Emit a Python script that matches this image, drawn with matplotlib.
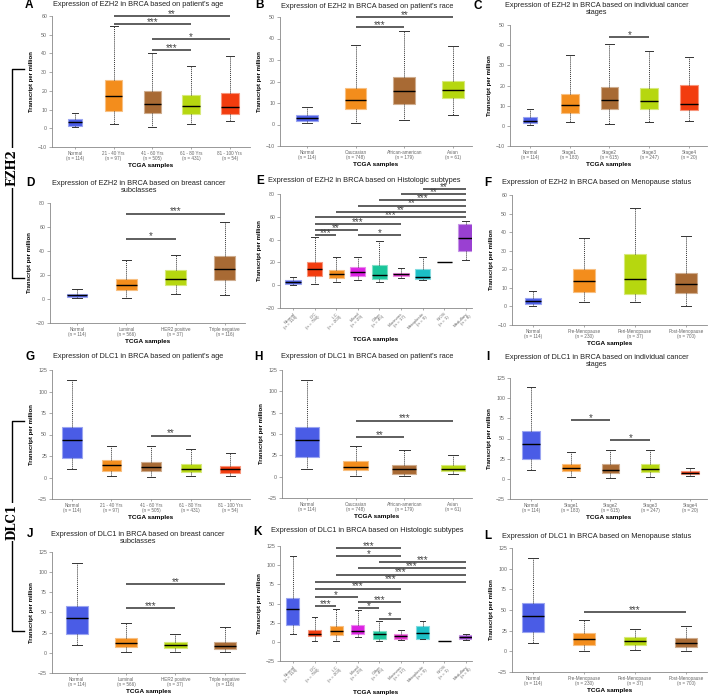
import numpy as np
import matplotlib
matplotlib.use('Agg')
from matplotlib import pyplot as plt
from matplotlib import colors as mcolors

plt.rcParams['font.family'] = ['Liberation Sans', 'DejaVu Sans']

W, H = 709, 698

# colours used by the web tool
BLUE = '#4a5ce6'
ORANGE = '#f38d1c'
BROWN = '#a86a34'
LIME = '#b6d70f'
RED = '#f23c0e'
MAGENTA = '#dc22e2'
GREEN = '#19c59a'
PINK = '#e12ccb'
CYAN = '#1bbfc6'
GREY = '#8c8c8c'
PURPLE = '#9a40d2'

# ---------------- data (box rows: low whisker, q1, median, q3, high whisker)
age_labels = ['Normal', '21 - 40 Yrs', '41 - 60 Yrs', '61 - 80 Yrs', '81 - 100 Yrs']
age_n = [114, 97, 505, 431, 54]
race_labels = ['Normal', 'Caucasian', 'African-american', 'Asian']
race_n = [114, 748, 179, 61]
stage_labels = ['Normal', 'Stage1', 'Stage2', 'Stage3', 'Stage4']
stage_n = [114, 183, 615, 247, 20]
sub_labels = ['Normal', 'Luminal', 'HER2 positive', 'Triple negative']
sub_n = [114, 566, 37, 116]
hist_labels = ['Normal', 'IDC', 'ILC', 'Mixed', 'Other', 'Mucinous', 'Metaplastic', 'INOS', 'Medullary']
hist_n = [114, 784, 203, 29, 45, 17, 9, 1, 8]
meno_labels = ['Normal', 'Pre-Menopause', 'Peri-Menopause', 'Post-Menopause']
meno_n = [114, 230, 37, 700]

ezh2_age = [[0.5, 1.4, 3.1, 4.8, 8.4], [2.5, 9.3, 17.1, 25.7, 54.4], [0.9, 8.4, 12.9, 20.1, 40.0],
            [2.2, 7.5, 11.7, 17.8, 33.2], [3.9, 7.4, 11.3, 18.7, 38.6]]
ezh2_age_sig = [(1, 4, 60.0, '**'), (1, 3, 55.7, '***'), (2, 4, 47.6, '*'), (2, 3, 41.8, '***')]

ezh2_race = [[0.5, 1.5, 2.8, 4.3, 8.2], [0.8, 7.1, 11.6, 17.2, 37.1], [2.0, 9.7, 15.8, 22.1, 43.3],
             [4.3, 12.1, 16.2, 20.1, 36.5]]
ezh2_race_sig = [(1, 3, 49.9, '**'), (1, 2, 45.3, '***')]

ezh2_stage = [[0.2, 1.2, 2.6, 4.5, 8.3], [2.1, 6.5, 10.3, 15.6, 35.1], [0.7, 8.3, 12.8, 19.4, 40.4],
              [1.7, 8.2, 12.3, 18.6, 37.3], [2.4, 7.9, 10.7, 20.2, 34.3]]
ezh2_stage_sig = [(2, 3, 43.9, '*')]

ezh2_sub = [[0.6, 1.4, 3.1, 4.4, 8.6], [1.1, 7.5, 11.9, 16.9, 32.2], [3.9, 11.9, 16.7, 23.9, 36.9],
            [3.6, 16.1, 25.3, 35.6, 64.2]]
ezh2_sub_sig = [(1, 3, 71.1, '***'), (1, 2, 50.3, '*')]

ezh2_hist = [[0.3, 1.2, 2.6, 4.4, 7.6], [0.9, 8.2, 14.0, 20.7, 42.6], [2.6, 6.7, 9.9, 13.4, 24.5],
             [4.7, 8.5, 11.7, 15.7, 24.5], [2.6, 5.5, 9.0, 17.5, 38.8], [6.1, 8.2, 9.6, 11.1, 14.9],
             [4.7, 5.8, 7.6, 14.6, 24.5], [20.7, 20.7, 20.7, 20.7, 20.7], [22.2, 30.3, 41.4, 53.6, 56.6]]
ezh2_hist_sig = [(6, 8, 84.3, '**'), (5, 8, 79.6, '**'), (4, 8, 74.3, '***'), (3, 8, 69.7, '**'),
                 (2, 8, 64.4, '**'), (1, 8, 59.5, '***'), (1, 5, 53.6, '***'), (1, 3, 48.4, '**'),
                 (1, 2, 44.0, '***'), (3, 5, 44.0, '*')]

ezh2_meno = [[0.5, 1.4, 2.9, 4.5, 8.3], [2.3, 7.9, 13.5, 19.9, 36.6], [2.3, 6.5, 14.7, 28.0, 52.8],
             [0.5, 7.5, 12.0, 18.1, 38.1]]
ezh2_meno_sig = []

dlc1_age = [[9.9, 23.1, 43.6, 58.3, 113.4], [1.7, 7.9, 14.5, 20.3, 37.0], [1.0, 7.6, 11.8, 18.4, 37.0],
            [1.7, 6.0, 10.3, 15.7, 32.8], [1.7, 5.2, 9.5, 13.8, 28.1]]
dlc1_age_sig = [(2, 3, 48.6, '**')]

dlc1_race = [[9.3, 22.5, 42.8, 58.0, 113.3], [1.1, 7.3, 11.2, 18.3, 35.4], [0.3, 3.4, 9.3, 13.6, 30.7],
             [3.4, 6.2, 9.3, 13.6, 25.6]]
dlc1_race_sig = [(1, 3, 65.7, '***'), (1, 2, 46.3, '**')]

dlc1_stage = [[10.5, 24.6, 43.2, 58.9, 113.4], [2.3, 9.3, 13.4, 18.4, 32.9], [1.0, 7.2, 11.0, 18.4, 36.2],
              [2.3, 8.9, 12.6, 18.8, 36.2], [3.1, 6.0, 7.6, 9.7, 13.4]]
dlc1_stage_sig = [(1, 2, 72.5, '*'), (2, 3, 47.7, '*')]

dlc1_sub = [[9.5, 23.0, 42.7, 58.0, 111.8], [1.6, 7.8, 11.9, 18.1, 36.6], [1.6, 5.8, 9.5, 13.2, 23.0],
            [0.8, 4.5, 8.6, 14.0, 31.6]]
dlc1_sub_sig = [(1, 3, 85.0, '**'), (1, 2, 55.0, '***')]

dlc1_hist = [[10.1, 22.2, 42.3, 57.7, 112.2], [1.6, 7.2, 10.6, 15.7, 32.9], [1.6, 9.3, 14.4, 20.8, 42.3],
             [6.3, 10.1, 14.4, 22.2, 41.4], [1.6, 4.1, 10.6, 13.6, 27.7], [2.9, 4.1, 7.2, 10.6, 15.7],
             [3.7, 4.1, 11.4, 20.8, 27.3], [1.6, 1.6, 1.6, 1.6, 1.6], [2.9, 4.1, 6.3, 8.4, 10.6]]
dlc1_hist_sig = [(2, 5, 122.0, '***'), (2, 5, 112.2, '*'), (4, 8, 103.6, '***'), (3, 8, 96.3, '***'),
                 (2, 8, 87.7, '***'), (1, 8, 78.6, '***'), (1, 5, 69.3, '***'), (1, 3, 58.6, '*'),
                 (3, 5, 52.1, '***'), (1, 2, 46.6, '***'), (3, 4, 43.6, '*'), (4, 5, 30.3, '*')]

dlc1_meno = [[10.0, 23.0, 43.0, 58.0, 113.0], [1.0, 8.0, 15.0, 22.0, 38.0], [2.0, 8.0, 12.0, 17.0, 27.0],
             [1.0, 5.0, 10.0, 16.0, 31.0]]
dlc1_meno_sig = [(1, 3, 47.0, '***')]


fig = plt.figure(figsize=(W / 100, H / 100), dpi=100)


def px_rect(left, top, right, bottom):
    return [left / W, 1 - bottom / H, (right - left) / W, (bottom - top) / H]


def lighten(c, f=0.45):
    r, g, b = mcolors.to_rgb(c)
    return (r + (1 - r) * f, g + (1 - g) * f, b + (1 - b) * f)


def draw_panel(rect, xlim, yticks, labels, ns, box, cols, sig, widths, rotate=False):
    ax = fig.add_axes(px_rect(*rect))
    stats = []
    for lab, row in zip(labels, box):
        stats.append(dict(whislo=row[0], q1=row[1], med=row[2], q3=row[3], whishi=row[4], label=lab))
    pos = np.arange(len(stats))
    bp = ax.bxp(stats, positions=pos, widths=widths, patch_artist=True, showfliers=False,
                whiskerprops=dict(linestyle=(0, (1, 1)), color='#333333', lw=0.7),
                capprops=dict(color='#333333', lw=0.7),
                medianprops=dict(color='black', lw=1.0),
                boxprops=dict(lw=0.8))
    for patch, c in zip(bp['boxes'], cols):
        patch.set_facecolor(c)
        patch.set_edgecolor(lighten(c))
    for cap in bp['caps']:
        x = cap.get_xdata()
        m = x.mean()
        cap.set_xdata([m - (x[1] - x[0]) * 0.45, m + (x[1] - x[0]) * 0.45])
    for i, j, y, txt in sig:
        ax.plot([i, j], [y, y], color='#333333', lw=1.1, clip_on=False, solid_capstyle='butt')
        ax.annotate(txt, xy=((i + j) / 2, y), xytext=(0, -0.6), textcoords='offset points',
                    ha='center', va='baseline', fontsize=7, color='#444444', annotation_clip=False)
    ax.set_xlim(*xlim)
    ax.set_ylim(yticks[0], yticks[-1])
    ax.set_yticks(yticks)
    ax.set_xticks(pos)
    ticklabels = ['%s\n(n = %d)' % (l, n) for l, n in zip(labels, ns)]
    if rotate:
        ax.set_xticklabels(ticklabels, rotation=45, ha='right', rotation_mode='anchor', fontsize=3.2,
                           color='#666666', linespacing=1.05)
    else:
        ax.set_xticklabels(ticklabels, fontsize=3.3, color='#666666', linespacing=1.05)
    ax.tick_params(axis='y', labelsize=3.8, labelcolor='#666666', length=2, width=0.5, color='#888888', pad=1.5)
    ax.tick_params(axis='x', length=1.5, width=0.5, color='#888888', pad=1.2)
    for s in ['top', 'right']:
        ax.spines[s].set_visible(False)
    for s in ['left', 'bottom']:
        ax.spines[s].set_color('#888888')
        ax.spines[s].set_linewidth(0.6)
    ax.set_ylabel('Transcript per million', fontsize=4.3, fontweight='bold', labelpad=3)
    ax.set_xlabel('TCGA samples', fontsize=4.6, fontweight='bold', labelpad=1.5 if not rotate else 3)
    return ax


def title(x, y, txt, letter, lx, ly):
    fig.text(x / W, 1 - y / H, txt, ha='center', va='center', fontsize=5.3, color='#222222', linespacing=1.15)
    fig.text(lx / W, 1 - ly / H, letter, ha='center', va='center', fontsize=8.5, fontweight='bold')


c5 = [BLUE, ORANGE, BROWN, LIME, RED]
c4r = [BLUE, ORANGE, BROWN, LIME]
c4s = [BLUE, ORANGE, LIME, BROWN]
c4m = [BLUE, ORANGE, LIME, BROWN]
c9 = [BLUE, RED, ORANGE, MAGENTA, GREEN, PINK, CYAN, GREY, PURPLE]

yt_a = np.arange(-10, 61, 10)
yt_b = np.arange(-10, 51, 10)
yt_d = np.arange(-20, 81, 20)
yt_g = np.arange(-25, 126, 25)

# EZH2 row 1
draw_panel((52, 16, 250, 147), (-0.59, 4.52), yt_a, age_labels, age_n, ezh2_age, c5, ezh2_age_sig,
           [0.35, 0.45, 0.45, 0.45, 0.45])
title(138, 5, "Expression of EZH2 in BRCA based on patient's age", 'A', 29, 5)
draw_panel((280, 17, 472, 146), (-0.55, 3.39), yt_b, race_labels, race_n, ezh2_race, c4r, ezh2_race_sig, 0.45)
title(367, 6, "Expression of EZH2 in BRCA based on patient's race", 'B', 260, 5)
draw_panel((510, 25, 707, 146), (-0.5, 4.45), yt_b, stage_labels, stage_n, ezh2_stage, c5, ezh2_stage_sig,
           [0.35, 0.45, 0.45, 0.45, 0.45])
title(597, 9, "Expression of EZH2 in BRCA based on individual cancer\nstages", 'C', 478, 6)

# EZH2 row 2
draw_panel((50, 203, 245, 323), (-0.55, 3.41), yt_d, sub_labels, sub_n, ezh2_sub, c4s, ezh2_sub_sig, 0.42)
title(139, 187, "Expression of EZH2 in BRCA based on breast cancer\nsubclasses", 'D', 30, 183)
draw_panel((280, 194, 472, 308), (-0.6, 8.29), yt_d, hist_labels, hist_n, ezh2_hist, c9, ezh2_hist_sig, 0.7,
           rotate=True)
title(364, 180, "Expression of EZH2 in BRCA based on Histologic subtypes", 'E', 260, 181)
draw_panel((512, 195, 707, 325), (-0.41, 3.41), yt_a, meno_labels, meno_n, ezh2_meno, c4m, ezh2_meno_sig,
           [0.3, 0.42, 0.42, 0.42])
title(597, 183, "Expression of EZH2 in BRCA based on Menopause status", 'F', 488, 183)

# DLC1 row 3
draw_panel((52, 370, 250, 499), (-0.5, 4.5), yt_g, age_labels, age_n, dlc1_age, c5, dlc1_age_sig, 0.5)
title(138, 357, "Expression of DLC1 in BRCA based on patient's age", 'G', 30, 357)
draw_panel((282, 370, 472, 498), (-0.51, 3.39), yt_g, race_labels, race_n, dlc1_race, c4r, dlc1_race_sig, 0.5)
title(367, 357, "Expression of DLC1 in BRCA based on patient's race", 'H', 258, 357)
draw_panel((510, 378, 707, 499), (-0.53, 4.43), yt_g, stage_labels, stage_n, dlc1_stage, c5, dlc1_stage_sig, 0.45)
title(597, 361, "Expression of DLC1 in BRCA based on individual cancer\nstages", 'I', 488, 357)

# DLC1 row 4
draw_panel((52, 552, 245, 673), (-0.5, 3.41), yt_g, sub_labels, sub_n, dlc1_sub, c4s, dlc1_sub_sig, 0.45)
title(138, 538, "Expression of DLC1 in BRCA based on breast cancer\nsubclasses", 'J', 30, 534)
draw_panel((280, 546, 472, 661), (-0.6, 8.29), yt_g, hist_labels, hist_n, dlc1_hist, c9, dlc1_hist_sig, 0.6,
           rotate=True)
title(367, 531, "Expression of DLC1 in BRCA based on Histologic subtypes", 'K', 258, 532)
draw_panel((512, 548, 707, 672), (-0.41, 3.41), yt_g, meno_labels, meno_n, dlc1_meno, c4m, dlc1_meno_sig, 0.42)
title(597, 536, "Expression of DLC1 in BRCA based on Menopause status", 'L', 488, 536)

# gene brackets on the left
for top, bot, gene, mid in [(69, 278, 'EZH2', 168), (421, 631, 'DLC1', 522)]:
    xs = [24 / W, 12 / W, 12 / W, 24 / W]
    ys = [1 - top / H, 1 - top / H, 1 - bot / H, 1 - bot / H]
    fig.add_artist(plt.Line2D(xs, ys, color='black', lw=1.0))
    fig.text(12 / W, 1 - mid / H, gene, rotation=90, ha='center', va='center', fontsize=8.5,
             fontweight='bold', family='DejaVu Serif',
             bbox=dict(facecolor='white', edgecolor='none', pad=1.0))

fig.savefig('out.png', dpi=100)
